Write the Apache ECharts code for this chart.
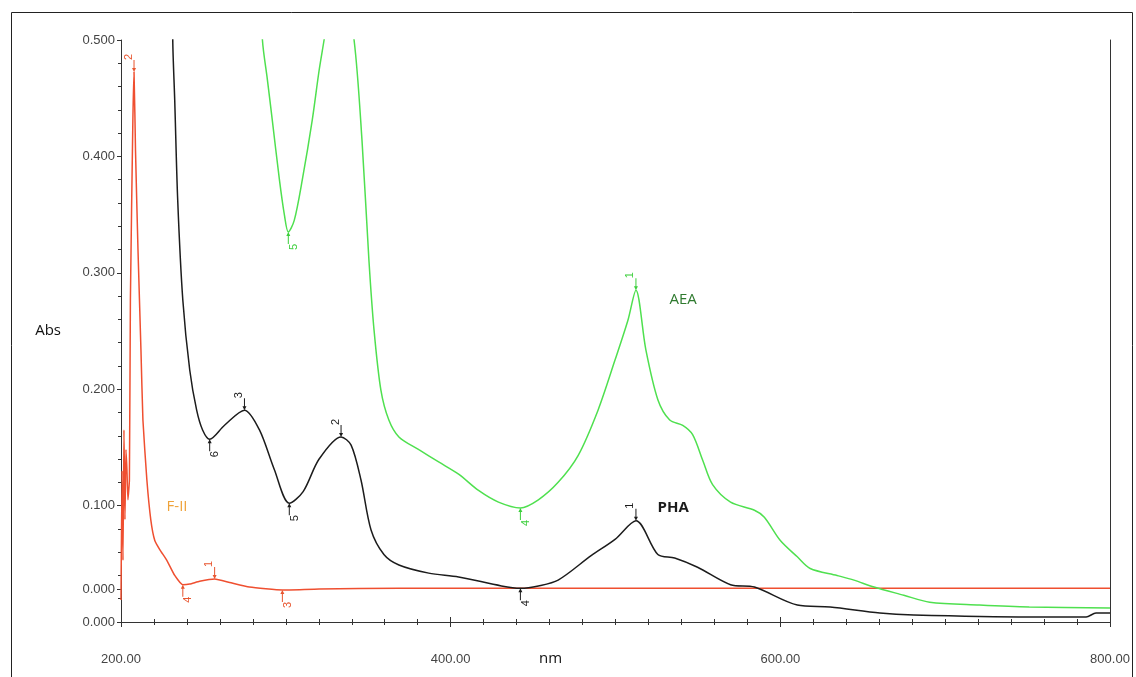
<!DOCTYPE html>
<html>
<head>
<meta charset="utf-8">
<script src="https://cdn.jsdelivr.net/npm/echarts@6/dist/echarts.min.js"></script>
<style>
  html, body { margin: 0; padding: 0; background: #fff; }
  #chart { width: 1136px; height: 677px; }
</style>
</head>
<body>
<div id="chart"></div>
<script>
// PHA (black) spectrum
const phaNm = [231.0, 231.4, 232.6, 234.4, 237.5, 241.7, 245.9, 249.5, 253.8, 262.8, 274.9, 284.0, 293.0, 302.1, 310.5, 320.2, 333.5, 339.6, 345.6, 351.7, 359.5, 368.6, 386.7, 404.8, 430.8, 442.3, 453.2, 465.2, 485.2, 499.7, 512.4, 525.7, 535.9, 549.8, 569.8, 584.3, 610.3, 630.2, 660.4, 680.9, 751.0, 785.5, 791.5, 800];
const phaAbs = [0.62, 0.5, 0.448, 0.3625, 0.2766, 0.2165, 0.182, 0.165, 0.157, 0.169, 0.182, 0.165, 0.131, 0.102, 0.112, 0.140, 0.159, 0.152, 0.122, 0.079, 0.058, 0.049, 0.042, 0.0387, 0.031, 0.029, 0.031, 0.036, 0.057, 0.071, 0.087, 0.058, 0.055, 0.047, 0.032, 0.030, 0.0146, 0.0129, 0.0077, 0.006, 0.0043, 0.0043, 0.0077, 0.0077];

// AEA (green) spectrum
const aeaNm = [284.5, 285.8, 288.8, 291.8, 296.1, 299.1, 301.5, 305.1, 310.0, 316.0, 320.2, 323.2, 332.0, 341.4, 346.2, 350.4, 353.5, 357.7, 362.5, 368.6, 380.7, 392.7, 404.8, 416.9, 429.0, 442.3, 453.2, 465.2, 477.3, 489.4, 499.7, 507.5, 512.4, 518.4, 525.7, 532.9, 540.8, 546.8, 552.9, 558.9, 569.8, 584.3, 590.3, 600.0, 610.3, 618.1, 634.4, 644.7, 656.8, 674.9, 690.6, 720.8, 751.0, 800];
const aeaAbs = [0.56, 0.5, 0.466, 0.431, 0.380, 0.350, 0.335, 0.345, 0.380, 0.431, 0.474, 0.5, 0.58, 0.5, 0.414, 0.311, 0.251, 0.199, 0.1735, 0.159, 0.148, 0.1375, 0.127, 0.113, 0.103, 0.098, 0.105, 0.120, 0.143, 0.182, 0.225, 0.259, 0.285, 0.234, 0.191, 0.1735, 0.169, 0.161, 0.139, 0.118, 0.103, 0.096, 0.090, 0.070, 0.056, 0.046, 0.040, 0.036, 0.030, 0.023, 0.017, 0.0146, 0.0129, 0.012];

// F-II (red) spectrum
const f2Nm = [200, 200.6, 201.2, 201.8, 202.4, 203.0, 203.6, 204.2, 205.1, 205.7, 207.2, 207.9, 208.8, 210.3, 212.1, 213.3, 215.7, 218.1, 220.5, 223.6, 227.8, 232.6, 237.5, 241.7, 247.7, 256.8, 265.9, 277.9, 297.9, 320.2, 368.6, 489.4, 800];
const f2Abs = [0.019, 0.13, 0.053, 0.165, 0.088, 0.148, 0.131, 0.105, 0.122, 0.277, 0.431, 0.4725, 0.405, 0.32, 0.234, 0.1735, 0.122, 0.0876, 0.070, 0.062, 0.053, 0.040, 0.032, 0.0326, 0.035, 0.037, 0.034, 0.030, 0.0275, 0.0284, 0.029, 0.029, 0.029];

// peak / valley picks: [nm, abs, number]
const phaPeaks = [[512.4, 0.087, '1'], [333.5, 0.159, '2'], [274.9, 0.182, '3']];
const phaValleys = [[442.3, 0.029, '4'], [302.1, 0.102, '5'], [253.8, 0.157, '6']];
const aeaPeaks = [[512.4, 0.285, '1']];
const aeaValleys = [[442.3, 0.098, '4'], [301.5, 0.335, '5']];
const f2Peaks = [[207.9, 0.4725, '2'], [256.8, 0.037, '1']];
const f2Valleys = [[237.5, 0.032, '4'], [297.9, 0.0275, '3']];

// series name tags: [nm, abs]
const aeaTag = [541, 0.277];
const phaTag = [535, 0.098];
const f2Tag = [234, 0.099];

// axis ticks
const yTickValues = [0, 0.0284, 0.1, 0.2, 0.3, 0.4, 0.5];
const yTickLabels = ['0.000', '0.000', '0.100', '0.200', '0.300', '0.400', '0.500'];

const zip = (xs, ys) => xs.map((x, i) => [x, ys[i]]);

const arrow = 'path://M-0.5,0 L0.5,0 L0.5,8 L2,8 L0,12 L-2,8 L-0.5,8 Z';

const picks = (peaks, valleys, color) => {
  const out = [];
  peaks.forEach(([x, y, n]) => out.push({
    coord: [x, y], value: n,
    symbol: arrow, symbolSize: [4, 12], symbolOffset: [0, -6],
    itemStyle: { color: color },
    label: { show: true, position: 'top', distance: 3, rotate: 90, formatter: n, color: color, fontSize: 11, fontFamily: 'Liberation Sans' },
  }));
  valleys.forEach(([x, y, n]) => out.push({
    coord: [x, y], value: n,
    symbol: arrow, symbolSize: [4, 12], symbolOffset: [0, 6], symbolRotate: 180,
    itemStyle: { color: color },
    label: { show: true, position: 'bottom', distance: 3, rotate: 90, formatter: n, color: color, fontSize: 11, fontFamily: 'Liberation Sans' },
  }));
  return out;
};

const tag = (pos, text, color, weight) => ({
  coord: pos, value: text, symbolSize: 0,
  label: { show: true, position: 'inside', formatter: text, color: color, fontSize: 15, fontWeight: weight, fontFamily: 'Open Sans' },
});

const chart = echarts.init(document.getElementById('chart'));

const tickStyle = { color: '#333' };

const option = {
  backgroundColor: '#fff',
  animation: false,
  graphic: [{
    type: 'rect', silent: true,
    shape: { x: 11.5, y: 12.5, width: 1121, height: 700 },
    style: { fill: 'none', stroke: '#222', lineWidth: 1 },
  }],
  grid: { left: 121, top: 40, right: 26, bottom: 55, outerBoundsMode: 'none' },
  xAxis: [{
    type: 'value', min: 200, max: 800, interval: 200,
    name: 'nm', nameLocation: 'middle', nameGap: 29, nameMoveOverlap: false,
    nameTextStyle: { color: '#111', fontSize: 15, fontFamily: 'Open Sans', padding: [0, 130, 0, 0] },
    axisLine: { lineStyle: { color: '#333', width: 1 } },
    axisTick: { show: true, inside: true, length: 5, lineStyle: tickStyle },
    minorTick: { show: true, splitNumber: 10, length: 3, lineStyle: tickStyle },
    axisLabel: { margin: 31, color: '#444', fontSize: 13, fontFamily: 'Liberation Sans', formatter: v => v.toFixed(2) },
    splitLine: { show: false },
  }, {
    type: 'value', position: 'top', min: 200, max: 800, interval: 200,
    axisLine: { show: true, lineStyle: { color: '#333', width: 1 } },
    axisTick: { show: true, inside: true, length: 5, lineStyle: tickStyle },
    minorTick: { show: true, splitNumber: 10, length: 3, lineStyle: tickStyle },
    axisLabel: { show: false },
    splitLine: { show: false },
  }],
  yAxis: [{
    type: 'value', min: 0, max: 0.5, interval: 0.1,
    name: 'Abs', nameLocation: 'middle', nameRotate: 0, nameGap: 60, nameMoveOverlap: false,
    nameTextStyle: { color: '#111', fontSize: 15, fontFamily: 'Open Sans' },
    axisLine: { show: true, lineStyle: { color: '#333', width: 1 } },
    axisTick: { show: true, length: 4, customValues: yTickValues, lineStyle: tickStyle },
    minorTick: { show: true, splitNumber: 5, length: 3, lineStyle: tickStyle },
    axisLabel: {
      margin: 6, color: '#444', fontSize: 13, fontFamily: 'Liberation Sans',
      customValues: yTickValues,
      formatter: v => yTickLabels[yTickValues.indexOf(v)],
    },
    splitLine: { show: false },
  }, {
    type: 'value', position: 'right', min: 0, max: 0.5, interval: 0.1,
    axisLine: { show: true, lineStyle: { color: '#333', width: 1 } },
    axisTick: { show: false },
    axisLabel: { show: false },
    splitLine: { show: false },
  }],
  series: [{
    name: 'F-II', type: 'line', data: zip(f2Nm, f2Abs),
    smooth: 0.15, showSymbol: false,
    lineStyle: { color: '#ef4f30', width: 1.5 },
    markPoint: { data: picks(f2Peaks, f2Valleys, '#e8552f').concat([tag(f2Tag, 'F-II', '#efa33a', 'normal')]) },
  }, {
    name: 'AEA', type: 'line', data: zip(aeaNm, aeaAbs),
    smooth: 0.3, showSymbol: false,
    lineStyle: { color: '#4fe04f', width: 1.5 },
    markPoint: { data: picks(aeaPeaks, aeaValleys, '#3ccf3c').concat([tag(aeaTag, 'AEA', '#2f7a2f', 'normal')]) },
  }, {
    name: 'PHA', type: 'line', data: zip(phaNm, phaAbs),
    smooth: 0.3, showSymbol: false,
    lineStyle: { color: '#1c1c1c', width: 1.5 },
    markPoint: { data: picks(phaPeaks, phaValleys, '#1c1c1c').concat([tag(phaTag, 'PHA', '#1c1c1c', 'bold')]) },
  }],
};

chart.setOption(option);
window.addEventListener('resize', () => chart.resize());
</script>
</body>
</html>
